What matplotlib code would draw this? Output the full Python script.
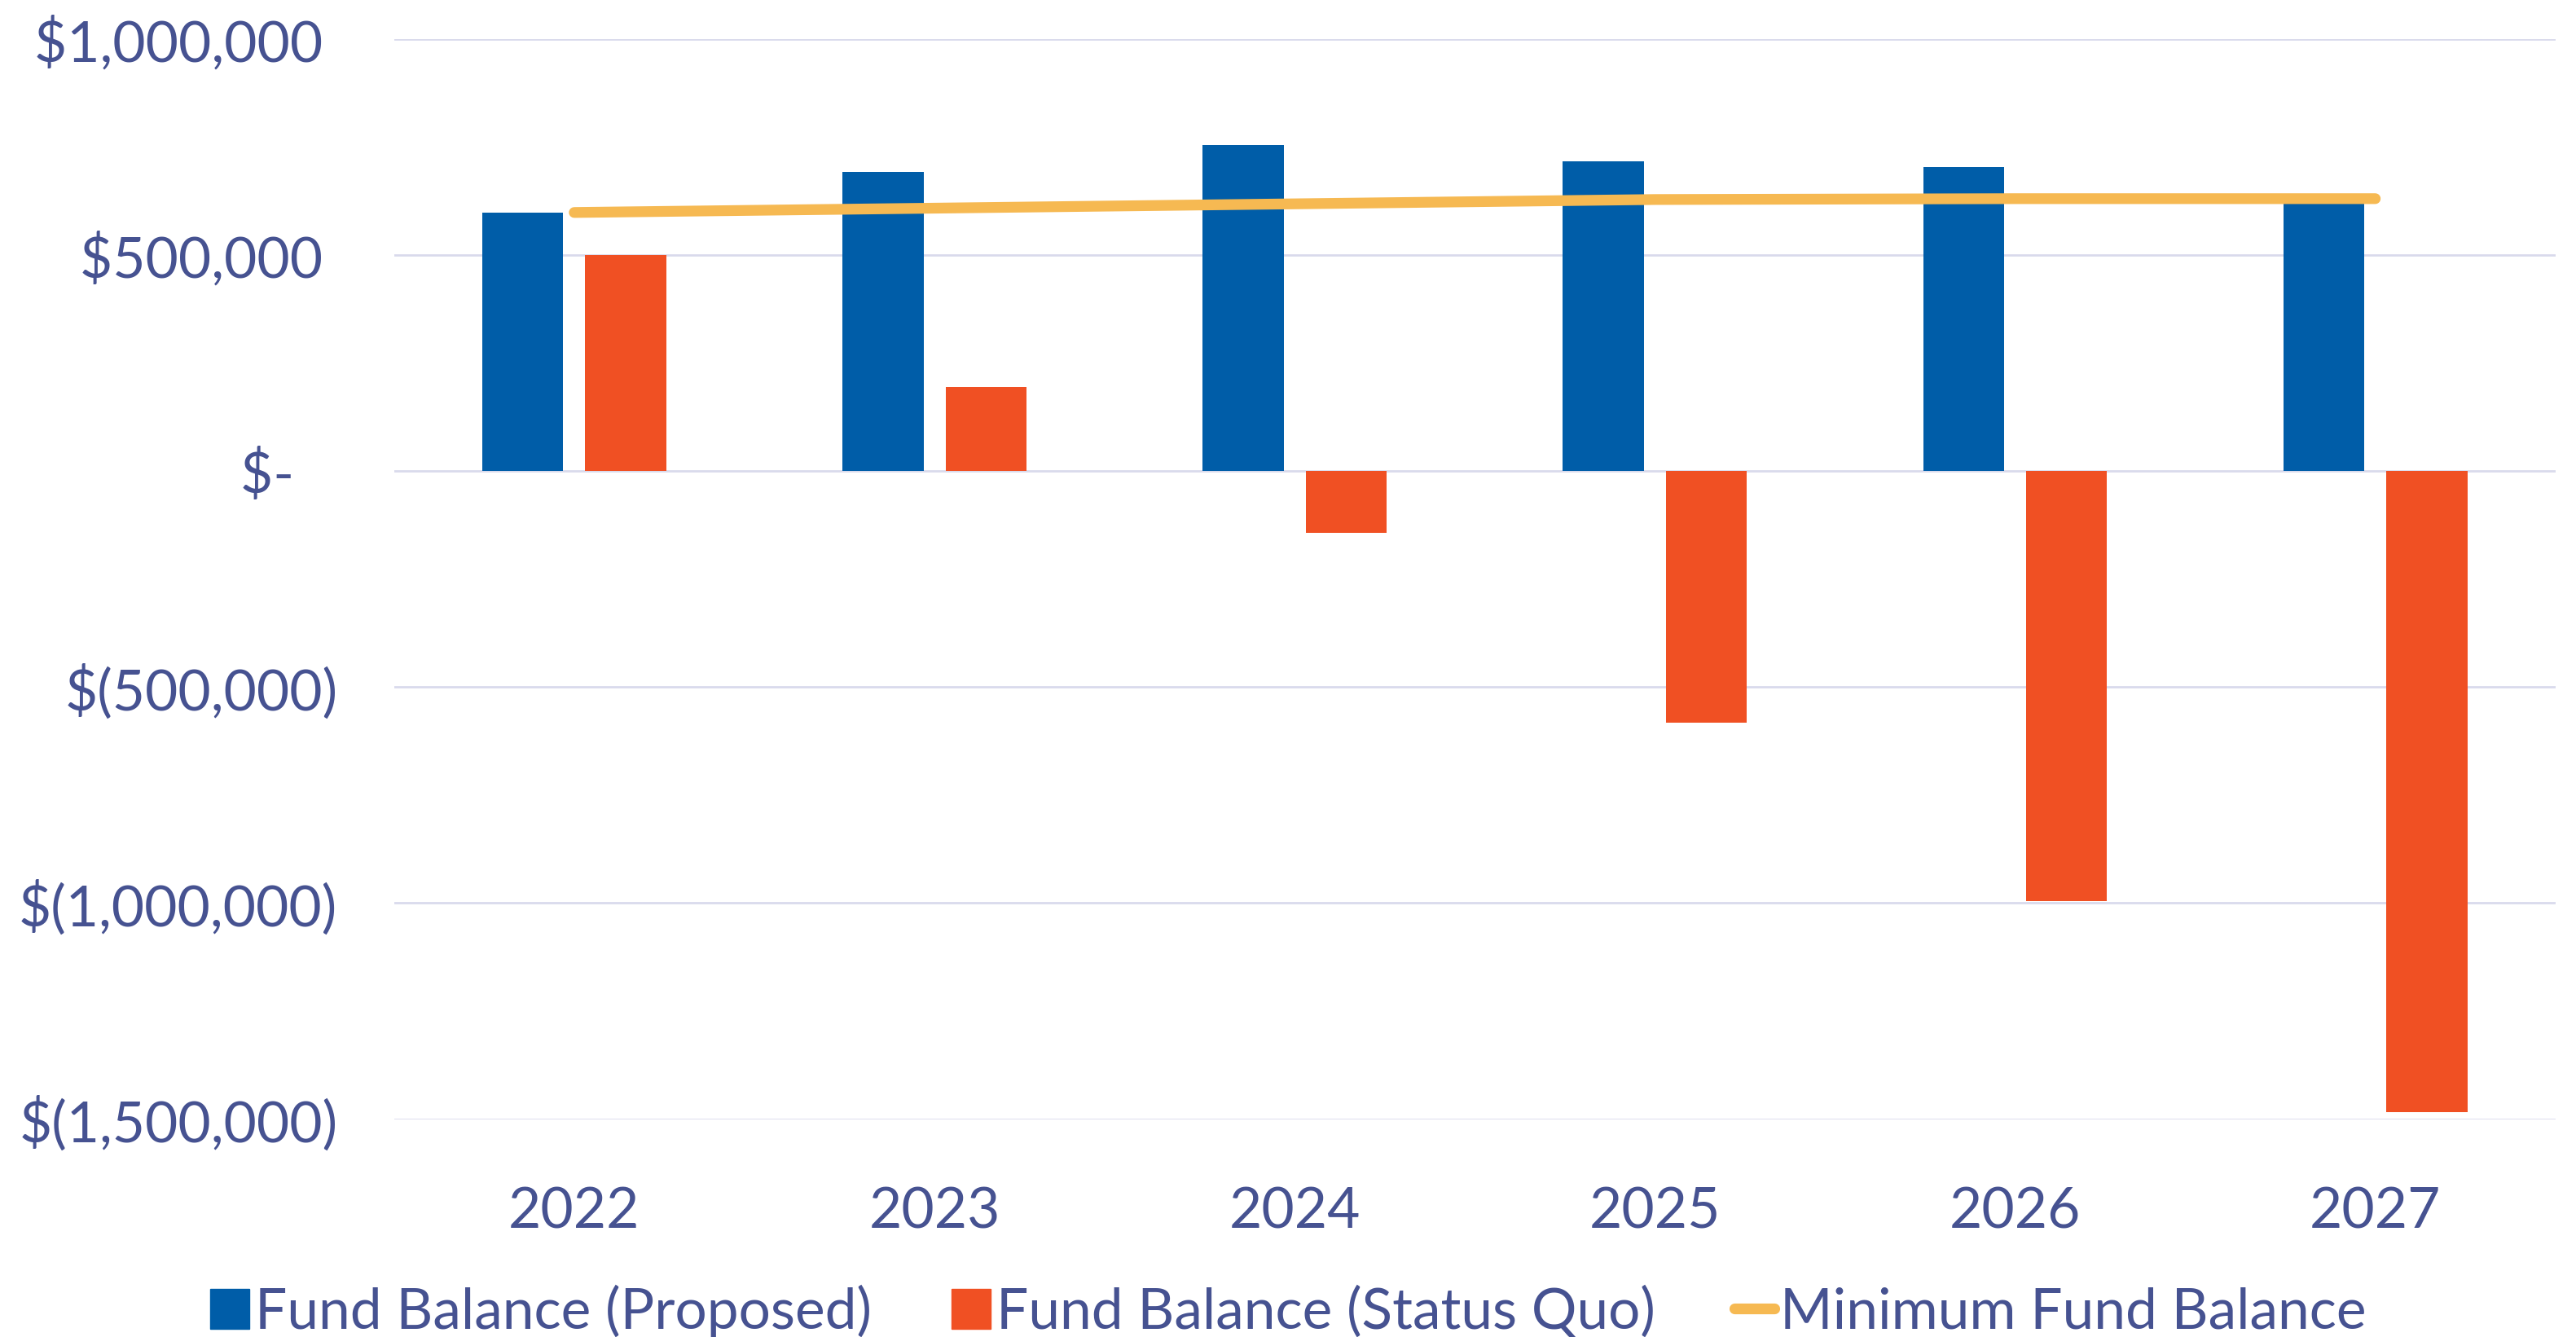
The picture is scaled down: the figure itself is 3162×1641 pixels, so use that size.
import numpy as np
import matplotlib
matplotlib.use("Agg")
import matplotlib.pyplot as plt
from matplotlib.patches import Patch
from matplotlib.lines import Line2D

years = ["2022", "2023", "2024", "2025", "2026", "2027"]
proposed = [598000, 692000, 755000, 716000, 704000, 618000]
status_quo = [500000, 194000, -144000, -582000, -996000, -1483000]
minimum = [598000, 608000, 618000, 628000, 630000, 630000]

yticks = [-1500000, -1000000, -500000, 0, 500000, 1000000]
ytick_labels = ["$(1,500,000)", "$(1,000,000)", "$(500,000)", "$-   ",
                "$500,000 ", "$1,000,000 "]

text_color = "#465291"
blue = "#005DA8"
orange = "#F05023"
gold = "#F6B952"
grid_color = "#D9DAEC"

plt.rcParams["font.family"] = ["Lato", "DejaVu Sans"]

fig = plt.figure(figsize=(31.62, 16.41), dpi=100)
ax = fig.add_axes([0.153, 0.163, 0.839, 0.808])

x = np.arange(len(years))
w = 0.225
ax.bar(x - 0.143, proposed, width=w, color=blue, zorder=2)
ax.bar(x + 0.143, status_quo, width=w, color=orange, zorder=2)
ax.plot(x, minimum, color=gold, lw=9.5, solid_capstyle="round", zorder=3)

ax.set_xlim(-0.5, len(years) - 0.5)
ax.set_ylim(-1500000, 1000000)
ax.set_yticks(yticks)
ax.set_yticklabels(ytick_labels)
ax.set_xticks(x)
ax.set_xticklabels(years)
ax.tick_params(axis="both", length=0, labelsize=50, labelcolor=text_color)
ax.tick_params(axis="y", pad=50)
ax.tick_params(axis="x", pad=60)
ax.grid(axis="y", color=grid_color, lw=2, zorder=0)
for s in ax.spines.values():
    s.set_visible(False)

handles = [
    Patch(color=blue, label="Fund Balance (Proposed)"),
    Patch(color=orange, label="Fund Balance (Status Quo)"),
    Line2D([0], [0], color=gold, lw=9.5, solid_capstyle="round",
           label="Minimum Fund Balance"),
]
fig.legend(handles=handles, loc="lower center", bbox_to_anchor=(0.5, -0.018),
           ncol=3, frameon=False, fontsize=50, labelcolor=text_color,
           handlelength=0.7, handleheight=0.7, handletextpad=0.1,
           columnspacing=1.4, borderaxespad=0)

fig.savefig("out.png", dpi=100, facecolor="white")
